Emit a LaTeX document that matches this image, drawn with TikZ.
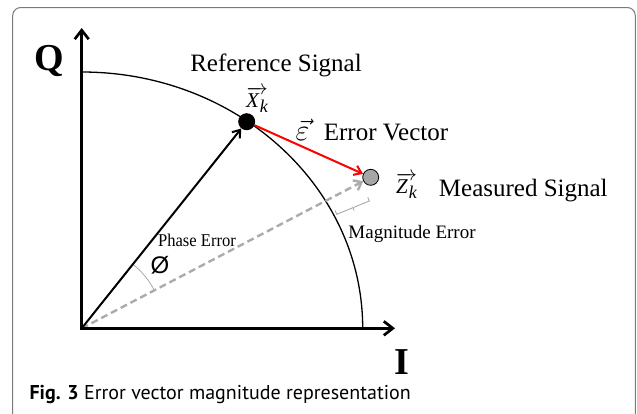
\RequirePackage{fix-cm}
\documentclass[tikz,border=0pt]{standalone}
\usepackage{fontspec}
\setmainfont{Liberation Serif}
\newfontfamily\capfont{PT Sans}
\newfontfamily\symfont{Liberation Sans}
\usetikzlibrary{arrows.meta}
\definecolor{framegray}{HTML}{7A7A7A}
\definecolor{dashgray}{HTML}{ABABAB}
\definecolor{dotgray}{HTML}{A6A6A6}
\definecolor{thingray}{HTML}{A0A0A0}
\newcommand{\veclabel}[1]{$\overrightarrow{\mbox{\itshape #1\kern1pt\raisebox{-5pt}{\fontsize{18}{18}\selectfont k}}}$}
\begin{document}
\begin{tikzpicture}[x=1pt,y=-1pt,
  axisline/.style={line width=2.7pt,
    {Straight Barb[length=9pt,width=14pt]}-{Straight Barb[length=9pt,width=14pt]}},
  vecline/.style={line width=2pt,-{Straight Barb[length=7pt,width=10pt]}},
  errline/.style={line width=2pt,red,-{Straight Barb[length=7pt,width=10pt]}},
  dashline/.style={line width=2.4pt,dashgray,dash pattern=on 7pt off 4pt,-{Straight Barb[length=7pt,width=11pt]}},
  xdot/.style={circle,fill=black,inner sep=0pt,minimum size=17pt},
  zdot/.style={circle,fill=dotgray,draw=black,line width=0.8pt,inner sep=0pt,minimum size=16pt},
  bigtxt/.style={font=\fontsize{25}{30}\selectfont,anchor=base,inner sep=0pt},
  smalltxt/.style={font=\fontsize{19}{23}\selectfont,anchor=base,inner sep=0pt},
  axislabel/.style={font=\fontsize{38}{44}\selectfont\bfseries,anchor=base,inner sep=0pt},
  mathtxt/.style={font=\fontsize{21}{26}\selectfont,anchor=base,inner sep=0pt}]
\useasboundingbox (0,0) rectangle (637,413);
\clip (0,0) rectangle (637,413);
% frame
\draw[framegray,line width=1pt,rounded corners=8pt] (12.7,7.5) rectangle (635.3,440);
% points
\coordinate (O) at (81.7,328.3);
\coordinate (Qtip) at (81.7,28);
\coordinate (Itip) at (395,328.3);
\coordinate (Ifoot) at (362.7,328.3);
\node[xdot] (X) at (246.7,121.7) {};
\node[zdot] (Z) at (370.7,177.3) {};
% arc of reference magnitude
\draw[line width=1.3pt] (Ifoot) arc[start angle=0,end angle=90,x radius=281pt,y radius=256.3pt];
% phase arc
\draw[thingray,line width=0.7pt] (O) ++(27.6:82pt) arc[start angle=27.6,end angle=51.3,radius=82pt];
% vectors
\draw[dashline] (O) -- (Z);
\draw[vecline] (O) -- (X);
\draw[errline] (X) -- (Z);
% axes
\draw[axisline,line join=miter] (Qtip) -- (O) -- (Itip);
% magnitude bracket
\coordinate (b1) at (335.2,210.6);
\coordinate (b2) at (336.7,214.3);
\coordinate (bm) at (353,207.7);
\coordinate (bm2) at (354.1,210.6);
\coordinate (b3) at (369.3,201);
\coordinate (b4) at (367.8,197.3);
\draw[thingray,line width=0.8pt] (b1) -- (b2) -- (b3) -- (b4);
\draw[thingray,line width=0.8pt] (bm) -- (bm2);
% labels
\node[axislabel] (Ql) at (49.5,70) {Q};
\node[axislabel] (Il) at (401.5,374) {I};
\node[bigtxt] (ref) at (276,71.5) {Reference Signal};
\node[bigtxt] (errv) at (386,140) {Error Vector};
\node[bigtxt] (meas) at (523.3,196.7) {Measured Signal};
\node[mathtxt] (eps) at (302.6,140) {\fontsize{30}{34}\selectfont$\vec{\varepsilon}$};
\node[mathtxt] (Xl) at (257,107) {\veclabel{X}};
\node[mathtxt] (Zl) at (406.5,193) {\veclabel{Z}};
\node[font=\fontsize{18}{22}\selectfont,anchor=base,inner sep=0pt,xscale=0.92] (pe) at (197,246.5) {Phase Error};
\node[smalltxt] (me) at (412,238.3) {Magnitude Error};
\node[font=\symfont\fontsize{24}{26}\selectfont,anchor=center,inner sep=0pt] (phi) at (160,265.7) {Ø};
% caption
\node[font=\capfont\fontsize{20}{24}\selectfont,anchor=base west,inner sep=0pt] (cap) at (29.3,399) {\textbf{Fig. 3} Error vector magnitude representation};
\end{tikzpicture}
\end{document}
